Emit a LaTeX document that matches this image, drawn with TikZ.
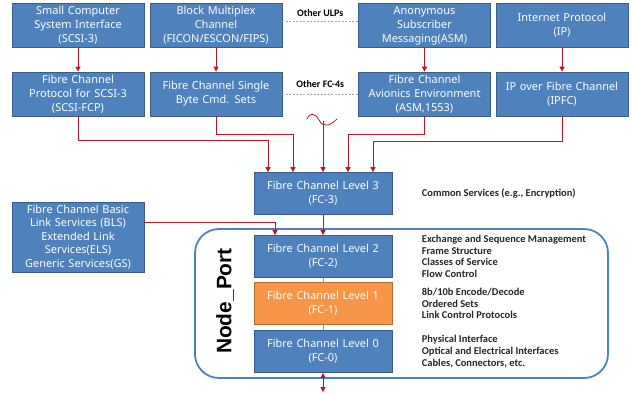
\documentclass[tikz,border=0pt]{standalone}
\usepackage{fontspec}
\setmainfont{Carlito}
\newfontfamily\boxfont{Noto Sans}
\newfontfamily\portfont{Liberation Sans}
\usetikzlibrary{positioning, arrows.meta}
\definecolor{fcblue}{RGB}{79,129,189}
\definecolor{fcblueline}{RGB}{56,93,138}
\definecolor{fcorange}{RGB}{247,150,70}
\definecolor{fcorangeline}{RGB}{182,109,49}
\definecolor{linkred}{RGB}{190,20,35}
\tikzset{
	>={Triangle[length=5bp,width=5bp]}, % small solid arrow heads
	fcbox/.style={draw=fcblueline, fill=fcblue, text=white, line width=0.8bp,
		font=\boxfont\fontsize{11}{14}\selectfont, align=center,
		text width=128bp, minimum width=132bp, minimum height=44bp, inner sep=1bp}, % the upper blue boxes
	levelbox/.style={fcbox, text width=134bp, minimum width=138bp, minimum height=42bp}, % FC-0 .. FC-3
	feed/.style={->, draw=linkred, line width=0.8bp}, % red connectors
	stack/.style={draw=linkred!60, line width=0.8bp}, % plain links inside the port
	others/.style={draw=gray!70, line width=0.6bp, dash pattern=on 2bp off 1.5bp}, % dashed separators
	otherlabel/.style={font=\bfseries\fontsize{10}{12}\selectfont}, % text over the dashed lines
	note/.style={font=\bfseries\fontsize{10.5}{11.6}\selectfont, align=left, text=black!85}, % notes at the right
}
\begin{document}
\begin{tikzpicture}[x=1bp, y=-1bp]
	\useasboundingbox (0,0) rectangle (632,393);
	% the Node_Port frame goes first, under the level boxes
	\node[draw=fcblue, line width=1.8bp, rounded corners=24bp, minimum width=413bp, minimum height=149bp] (port) at (401.5,303.5) {};
	\node[rotate=90, font=\portfont\bfseries\fontsize{21}{24}\selectfont] (portlabel) at (225,301) {Node\_Port};

	% upper layer protocols
	\node[fcbox] (scsi) at (78,25.5) {Small Computer\\System Interface\\(SCSI-3)};
	\node[fcbox] (block) at (216,25.5) {Block Multiplex\\Channel\\(FICON/ESCON/FIPS)};
	\node[fcbox] (asm) at (424.5,25.5) {Anonymous\\Subscriber\\Messaging(ASM)};
	\node[fcbox] (ip) at (562,25.5) {Internet Protocol\\(IP)};
	% FC-4 mappings
	\node[fcbox] (fcp) at (78,94) {Fibre Channel\\Protocol for SCSI-3\\(SCSI-FCP)};
	\node[fcbox] (sbcs) at (216,94) {Fibre Channel Single\\Byte Cmd. Sets};
	\node[fcbox] (avionics) at (424.5,94) {Fibre Channel\\Avionics Environment\\(ASM,1553)};
	\node[fcbox] (ipfc) at (562,94) {IP over Fibre Channel\\(IPFC)};

	% the levels
	\node[levelbox] (fc3) at (323,193.5) {Fibre Channel Level 3\\(FC-3)};
	\node[levelbox] (fc2) at (323,256.5) {Fibre Channel Level 2\\(FC-2)};
	\node[levelbox, fill=fcorange, draw=fcorangeline] (fc1) at (323,303.5) {Fibre Channel Level 1\\(FC-1)};
	\node[levelbox] (fc0) at (323,351.5) {Fibre Channel Level 0\\(FC-0)};
	\node[fcbox, minimum height=70bp, inner sep=0pt, font=\boxfont\fontsize{11}{13.6}\selectfont] (bls) at (78,237) {Fibre Channel Basic\\Link Services (BLS)\\Extended Link\\Services(ELS)\\Generic Services(GS)};

	% notes
	\node[note, right=26bp of fc3] (fc3note) {Common Services (e.g., Encryption)};
	\node[note, right=26bp of fc2] (fc2note) {Exchange and Sequence Management\\Frame Structure\\Classes of Service\\Flow Control};
	\node[note, right=26bp of fc1] (fc1note) {8b/10b Encode/Decode\\Ordered Sets\\Link Control Protocols};
	\node[note, right=26bp of fc0] (fc0note) {Physical Interface\\Optical and Electrical Interfaces\\Cables, Connectors, etc.};

	% dashed separators
	\draw[others] ([yshift=4.5bp]block.east) -- ([yshift=4.5bp]asm.west)
		node[midway, above=1bp, otherlabel] (ulps) {Other ULPs};
	\draw[others] (sbcs.east) -- (avionics.west)
		node[midway, above=3bp, otherlabel] (fc4s) {Other FC-4s};

	% connectors
	\draw[feed] (scsi) -- (fcp);
	\draw[feed] (block) -- (sbcs);
	\draw[feed] (asm) -- (avionics);
	\draw[feed] (ip) -- (ipfc);
	\draw[feed] (fcp.south) -- ++(0,24) -| ([xshift=-55bp]fc3.north);
	\draw[feed] (sbcs.south) -- ++(0,18) -| ([xshift=-30bp]fc3.north);
	\draw[feed] (avionics.south) -- ++(0,18) -| ([xshift=25bp]fc3.north);
	\draw[feed] (ipfc.south) -- ++(0,25) -| ([xshift=50bp]fc3.north);
	\coordinate (wave) at (323,121);
	\draw[linkred, line width=0.8bp] (307,119) .. controls (310,112) and (315,113) .. (319,120)
		.. controls (323,128) and (330,126) .. (337,119);
	\draw[feed] (wave) -- (wave |- fc3.north);
	\draw[feed] (fc3) -- (fc2);
	\draw[feed] ([yshift=15bp]bls.east) -| ([xshift=-48bp]fc2.north);
	\draw[stack] (fc2) -- (fc1);
	\draw[stack] (fc1) -- (fc0);
	\coordinate (wire) at (323,392);
	\draw[feed, <->] (fc0) -- (wire);
\end{tikzpicture}
\end{document}
